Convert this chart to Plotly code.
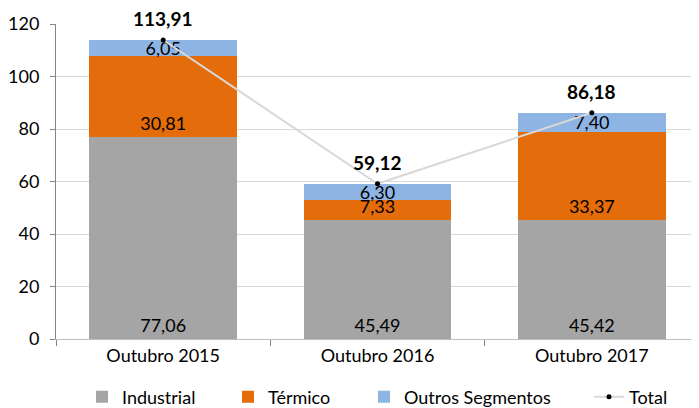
import plotly.graph_objects as go

categorias = ["Outubro 2015", "Outubro 2016", "Outubro 2017"]
industrial = [77.06, 45.49, 45.42]
termico = [30.81, 7.33, 33.37]
outros = [6.05, 6.30, 7.40]
total = [113.91, 59.12, 86.18]


def fmt(v):
    return f"{v:.2f}".replace(".", ",")


FONT = "Lato, Calibri, sans-serif"
# the page adds an 8px body margin, so the figure is 8px smaller than the window
W, H = 691, 400

fig = go.Figure()
fig.add_trace(go.Bar(x=categorias, y=industrial, name="Industrial", legend="legend",
                     marker_color="#A5A5A5", text=[fmt(v) for v in industrial],
                     textposition="inside", insidetextanchor="start"))
fig.add_trace(go.Bar(x=categorias, y=termico, name="Térmico", legend="legend2",
                     marker_color="#E46C0A", text=[fmt(v) for v in termico],
                     textposition="inside", insidetextanchor="start"))
fig.add_trace(go.Bar(x=categorias, y=outros, name="Outros Segmentos", legend="legend3",
                     marker_color="#8EB4E3", text=[fmt(v) for v in outros],
                     textposition="inside", insidetextanchor="middle"))
fig.add_trace(go.Scatter(x=categorias, y=total, name="Total", legend="legend4",
                         mode="lines+markers",
                         line=dict(color="#D9D9D9", width=2),
                         marker=dict(color="black", size=5)))

fig.update_traces(selector=dict(type="bar"), marker_line_width=0,
                  textfont=dict(size=18, color="black", family=FONT),
                  constraintext="none", cliponaxis=False)

# total labels above the points
for c, v in zip(categorias, total):
    fig.add_annotation(x=c, y=v, text=fmt(v), showarrow=False, yshift=21,
                       font=dict(size=19, color="black", family=FONT, weight="bold"))


def leg(px):
    return dict(orientation="h", xref="container", yref="container",
                x=px / W, xanchor="left", y=(H - 389) / H, yanchor="middle",
                font=dict(size=18, color="black", family=FONT), itemwidth=30,
                bgcolor="rgba(0,0,0,0)", borderwidth=0)


fig.update_layout(
    width=W, height=H,
    barmode="stack", bargap=0.31,
    plot_bgcolor="white", paper_bgcolor="white",
    margin=dict(l=48, r=0, t=16, b=69),
    font=dict(family=FONT, size=18, color="black"),
    showlegend=True,
    legend=leg(74), legend2=leg(220), legend3=leg(356), legend4=leg(581),
)
fig.update_xaxes(showline=True, linecolor="#BFBFBF", linewidth=1, automargin=False,
                 ticks="outside", tickson="boundaries", ticklen=6, tickcolor="#868686",
                 tickfont=dict(size=18))
fig.update_yaxes(range=[0, 120], dtick=20, showgrid=True, gridcolor="#D9D9D9",
                 showline=True, linecolor="#868686", linewidth=1, automargin=False,
                 ticks="outside", ticklen=5, tickcolor="#868686", ticklabelstandoff=7,
                 zeroline=False, tickfont=dict(size=18))

fig.write_html("out.html")
